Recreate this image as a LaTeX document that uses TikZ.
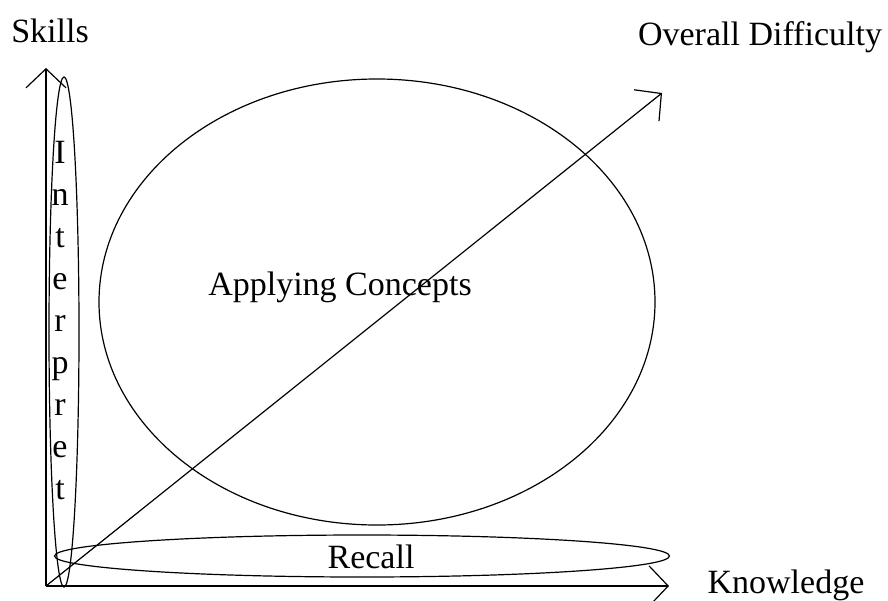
\documentclass[tikz,border=0pt]{standalone}
\usepackage{fontspec}
\setmainfont{Liberation Serif}
\usetikzlibrary{arrows.meta,shapes.geometric}
\tikzset{
  lbl/.style={inner sep=0pt, font=\fontsize{34}{42}\selectfont},
  blob/.style={draw, ellipse, inner sep=0pt, line width=1.2pt},
  axis/.style={line width=1.2pt, -{Straight Barb[length=19pt, width=40pt]}}
}
\begin{document}
\begin{tikzpicture}[x=1pt, y=-1pt]
\useasboundingbox (0,0) rectangle (888,600);
% ellipses
\node[blob, minimum width=556pt, minimum height=446pt] (apply) at (377,302) {};
\node[blob, minimum width=30pt, minimum height=510pt] (interp) at (64,332) {};
\node[blob, minimum width=615pt, minimum height=42pt] (recall) at (362,556) {};
% axes
\coordinate (O) at (46,586);
\coordinate (top) at (46,68);
\coordinate (right) at (669,586);
\coordinate (diag) at (662,93);
\draw[axis] (O) -- (top);
\draw[axis] (O) -- (right);
\draw[axis] (O) -- (diag);
% labels
\node[lbl, anchor=base] (skills) at (50,42) {Skills};
\node[lbl, anchor=base] (overall) at (760,45) {Overall Difficulty};
\node[lbl, anchor=base] (know) at (786,593) {Knowledge};
\node[lbl, anchor=base] (recalltxt) at (371,568) {Recall};
\node[lbl, anchor=base] (applytxt) at (340,295) {Applying Concepts};
\node[lbl, align=center] (interptxt) at (60,321) {I\\n\\t\\e\\r\\p\\r\\e\\t};
\end{tikzpicture}
\end{document}
